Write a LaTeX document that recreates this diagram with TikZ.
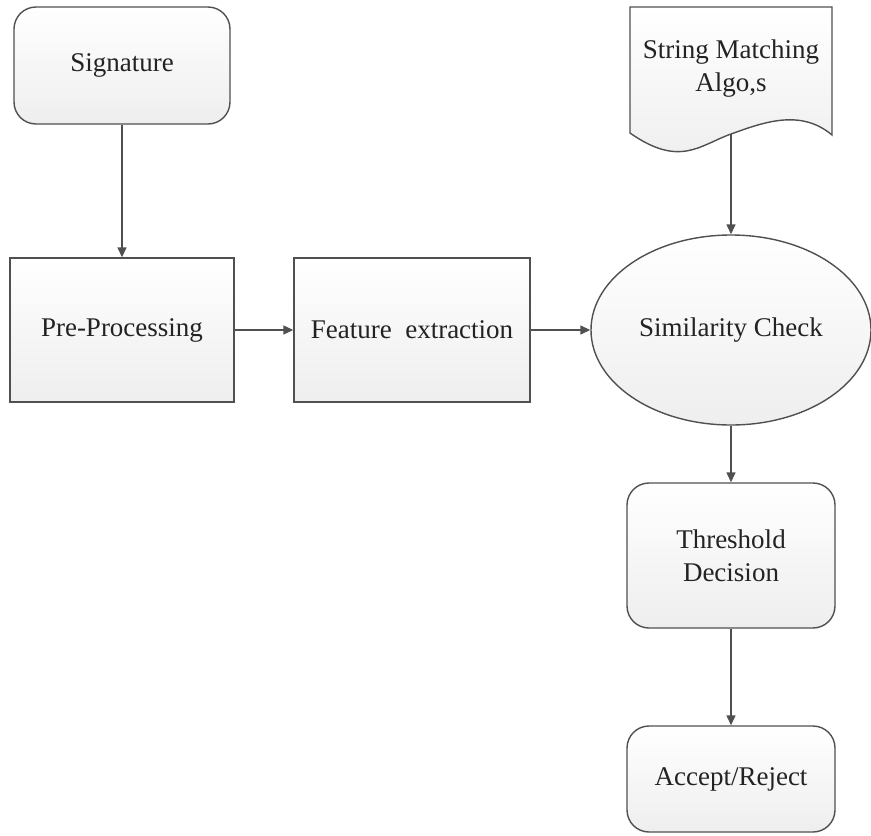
\documentclass[tikz,border=0pt]{standalone}
\usepackage{fontspec}
\setmainfont{Liberation Serif}
\usetikzlibrary{arrows.meta,shapes.geometric}

\definecolor{edgegray}{RGB}{80,80,80}
\definecolor{textgray}{RGB}{35,35,35}
\definecolor{fillbottom}{RGB}{238,238,238}

\tikzset{
  boxbase/.style={draw=edgegray, line width=1.4pt, top color=white,
    bottom color=fillbottom, inner sep=0pt, align=center,
    text=textgray, font=\fontsize{27}{33}\selectfont},
  roundbox/.style={boxbase, rectangle, rounded corners=22pt},
  plainbox/.style={boxbase, rectangle},
  ovalbox/.style={boxbase, ellipse},
  flow/.style={draw=edgegray, line width=1.4pt,
    -{Triangle[length=10pt,width=9pt]}}
}

\begin{document}
\begin{tikzpicture}[x=1pt,y=-1pt]
  \useasboundingbox (0,0) rectangle (871,836);

  % process boxes
  \node[roundbox, minimum width=216pt, minimum height=117pt] (sig) at (122,65.5) {Signature};
  \node[plainbox, minimum width=224pt, minimum height=144pt] (pre) at (122,330) {Pre-Processing};
  \node[plainbox, minimum width=236pt, minimum height=144pt] (feat) at (412,330) {Feature\ \ extraction};
  \node[ovalbox, minimum width=280pt, minimum height=190pt] (sim) at (731,330) {Similarity Check};
  \node[roundbox, minimum width=208pt, minimum height=145pt] (thr) at (731,555.5) {Threshold\\Decision};
  \node[roundbox, minimum width=208pt, minimum height=106pt] (acc) at (731,779) {Accept/Reject};

  % document symbol with wavy lower edge
  \shade[top color=white, bottom color=fillbottom, draw=edgegray, line width=1.4pt]
    (630,133) -- (630,7) -- (832,7) -- (832,135)
    .. controls (800,108) and (762,123) .. (731,134)
    .. controls (700,145) and (680,168) .. (630,133) -- cycle;
  \node[text=textgray, font=\fontsize{27}{33}\selectfont, align=center] (doc) at (731,69)
    {String Matching\\Algo,s};
  \coordinate (docb) at (731,134);

  % connectors
  \draw[flow] (sig) -- (pre);
  \draw[flow] (pre) -- (feat);
  \draw[flow] (feat) -- (sim);
  \draw[flow] (docb) -- (sim.north);
  \draw[flow] (sim) -- (thr);
  \draw[flow] (thr) -- (acc);
\end{tikzpicture}
\end{document}
